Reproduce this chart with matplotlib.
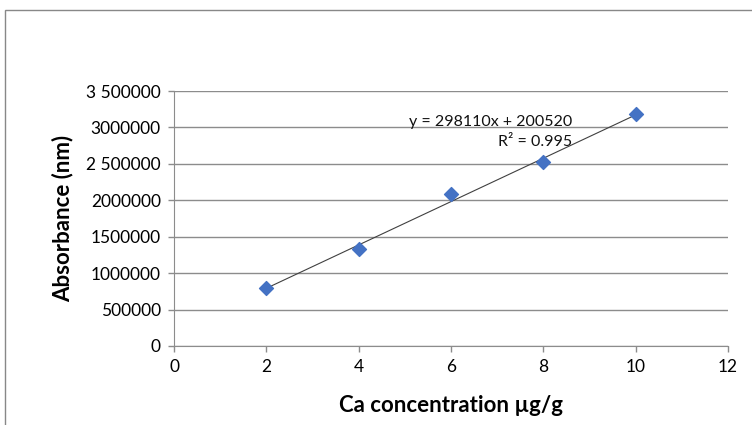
import numpy as np
import matplotlib.pyplot as plt
from matplotlib.patches import Rectangle

plt.rcParams['font.family'] = ['Lato', 'DejaVu Sans']

# calibration data
conc = [2, 4, 6, 8, 10]
absorb = [800000, 1330000, 2080000, 2520000, 3180000]
yticks = [0, 500000, 1000000, 1500000, 2000000, 2500000, 3000000, 3500000]
ytick_labels = ['0', '500000', '1000000', '1500000', '2000000', '2 500000', '3000000', '3 500000']
xticks = [0, 2, 4, 6, 8, 10, 12]
fit_text = 'y = 298110x + 200520\nR² = 0.995'

fig = plt.figure(figsize=(7.52, 4.25), dpi=100)
ax = fig.add_axes([174/752, 79/425, 554/752, 255/425])

# chart border
fig.add_artist(Rectangle((5/752, -0.1), 1.2, (415/425) + 0.1, transform=fig.transFigure,
                         fill=False, edgecolor='#888888', linewidth=1))

# trendline from least squares
m, b = np.polyfit(conc, absorb, 1)
xs = np.array([min(conc), max(conc)])
ax.plot(xs, m * xs + b, color='#404040', linewidth=0.8, zorder=2)
ax.scatter(conc, absorb, marker='D', s=50, color='#4472C4', zorder=3)

ax.text(8.62, 2940000, fit_text, ha='right', va='center', multialignment='right',
        fontsize=11.5, color='#111111', linespacing=1.6)

ax.set_xlim(0, 12)
ax.set_ylim(0, 3500000)
ax.set_xticks(xticks)
ax.set_xticklabels([str(t) for t in xticks])
ax.set_yticks(yticks)
ax.set_yticklabels(ytick_labels)
ax.grid(axis='y', color='#8c8c8c', linewidth=1)
ax.set_axisbelow(True)
for s in ['top', 'right']:
    ax.spines[s].set_visible(False)
for s in ['left', 'bottom']:
    ax.spines[s].set_color('#8c8c8c')
ax.tick_params(axis='both', colors='#8c8c8c', labelcolor='black', labelsize=12.5, length=4.5, width=1)
ax.tick_params(axis='y', pad=5)
ax.tick_params(axis='x', pad=5)

ax.set_xlabel('Ca concentration µg/g', fontsize=16, fontweight='bold', labelpad=14)
ax.set_ylabel('Absorbance (nm)', fontsize=16, fontweight='bold', labelpad=9)

fig.savefig('out.png', dpi=100)
